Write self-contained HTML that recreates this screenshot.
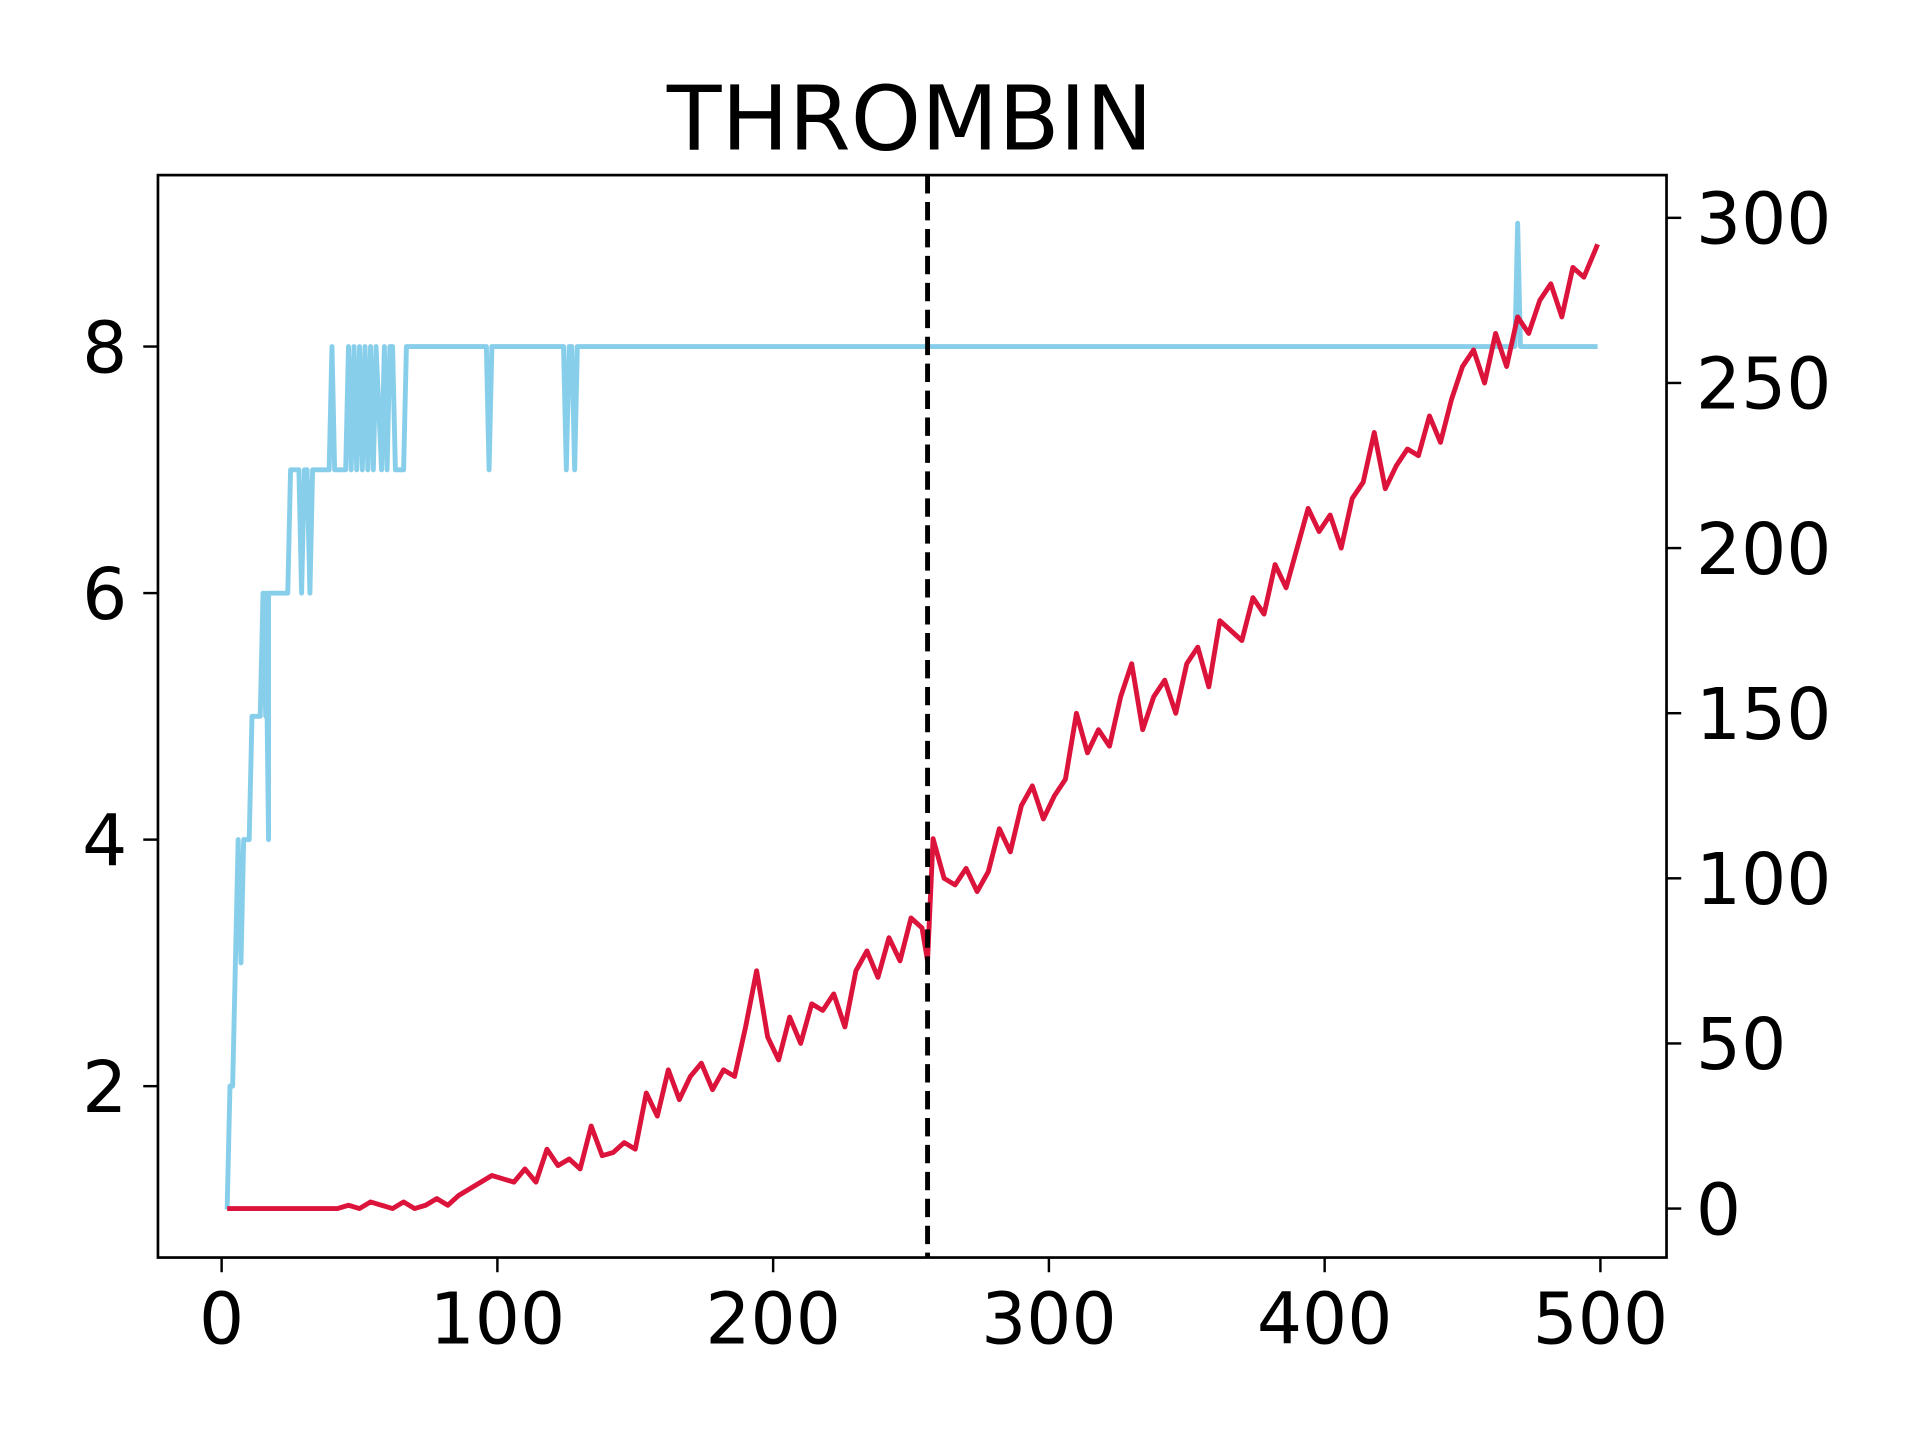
<!DOCTYPE html>
<html><head><meta charset="utf-8"><style>html,body{margin:0;padding:0;background:#fff}svg{display:block}</style></head>
<body>
<svg id="chart" width="1920" height="1440" viewBox="0 0 1568 1176" xmlns="http://www.w3.org/2000/svg" font-family="'DejaVu Sans','Liberation Sans',sans-serif">
<rect width="1568" height="1176" fill="#fff"/>
<text x="743" y="122" font-size="73" text-anchor="middle">THROMBIN</text>
<g id="marks"></g>
<rect x="129" y="143" width="1232" height="884" fill="none" stroke="#000" stroke-width="2.2"/>
<g id="axes"></g>
</svg>
<script>
const xTicks=[0,100,200,300,400,500];
const leftTicks=[2,4,6,8];
const rightTicks=[0,50,100,150,200,250,300];
const splitX=[256];
const blueX=[2,3,4,6,7,8,10,11,14,15,16,16,17,17,24,25,28,29,30,31,32,33,39,40,41,45,46,47,48,49,50,51,52,53,54,55,56,58,59,60,61,62,63,66,67,96,97,98,124,125,126,127,128,129,469,470,471,499];
const blueY=[1,2,2,4,3,4,4,5,5,6,5,6,4,6,6,7,7,6,7,7,6,7,7,8,7,7,8,7,8,7,8,7,8,7,8,7,8,7,8,7,8,8,7,7,8,8,7,8,8,7,8,8,7,8,8,9,8,8];
const redX=[2,6,10,14,18,22,26,30,34,38,42,46,50,54,58,62,66,70,74,78,82,86,90,94,98,102,106,110,114,118,122,126,130,134,138,142,146,150,154,158,162,166,170,174,178,182,186,190,194,198,202,206,210,214,218,222,226,230,234,238,242,246,250,254,256,258,262,266,270,274,278,282,286,290,294,298,302,306,310,314,318,322,326,330,334,338,342,346,350,354,358,362,366,370,374,378,382,386,390,394,398,402,406,410,414,418,422,426,430,434,438,442,446,450,454,458,462,466,470,474,478,482,486,490,494,498,499];
const redY=[0,0,0,0,0,0,0,0,0,0,0,1,0,2,1,0,2,0,1,3,1,4,6,8,10,9,8,12,8,18,13,15,12,25,16,17,20,18,35,28,42,33,40,44,36,42,40,55,72,52,45,58,50,62,60,65,55,72,78,70,82,75,88,85,75,112,100,98,103,96,102,115,108,122,128,118,125,130,150,138,145,140,155,165,145,155,160,150,165,170,158,178,175,172,185,180,195,188,200,212,205,210,200,215,220,235,218,225,230,228,240,232,245,255,260,250,265,255,270,265,275,280,270,285,282,290,292];
const NS='http://www.w3.org/2000/svg';
const X=v=>181+v*2.252;
const YL=v=>987.7-(v-1)*100.67;
const YR=v=>987-v*2.697;
const marks=document.getElementById('marks'), axes=document.getElementById('axes');
function mk(tag,attrs,parent){const e=document.createElementNS(NS,tag);for(const k in attrs)e.setAttribute(k,attrs[k]);parent.appendChild(e);return e;}
let bp=blueX.map((x,i)=>(i?'L':'M')+X(x).toFixed(1)+','+YL(blueY[i]).toFixed(1)).join('');
const bl=mk('path',{d:bp,fill:'none',stroke:'#87ceeb','stroke-width':4,'stroke-linejoin':'round'},marks);


let rp=redX.map((x,i)=>(i?'L':'M')+X(x).toFixed(1)+','+YR(redY[i]).toFixed(1)).join('');
const rl=mk('path',{d:rp,fill:'none',stroke:'#dc143c','stroke-width':4,'stroke-linejoin':'round'},marks);


splitX.forEach(s=>{const d=mk('line',{x1:X(s),x2:X(s),y1:143,y2:1027,stroke:'#000','stroke-width':4,'stroke-dasharray':'15,7'},marks);

});
xTicks.forEach(t=>{const l=mk('line',{x1:X(t),x2:X(t),y1:1027,y2:1039,stroke:'#000','stroke-width':2},axes);


const tx=mk('text',{x:X(t),y:1097,'font-size':58,'text-anchor':'middle'},axes);tx.textContent=t;

});
leftTicks.forEach(t=>{const l=mk('line',{x1:117,x2:129,y1:YL(t),y2:YL(t),stroke:'#000','stroke-width':2},axes);


const tx=mk('text',{x:104,y:YL(t)+21,'font-size':58,'text-anchor':'end'},axes);tx.textContent=t;

});
rightTicks.forEach(t=>{const l=mk('line',{x1:1361,x2:1373,y1:YR(t),y2:YR(t),stroke:'#000','stroke-width':2},axes);


const tx=mk('text',{x:1385,y:YR(t)+21,'font-size':58,'text-anchor':'start'},axes);tx.textContent=t;

});
</script>
</body></html>
